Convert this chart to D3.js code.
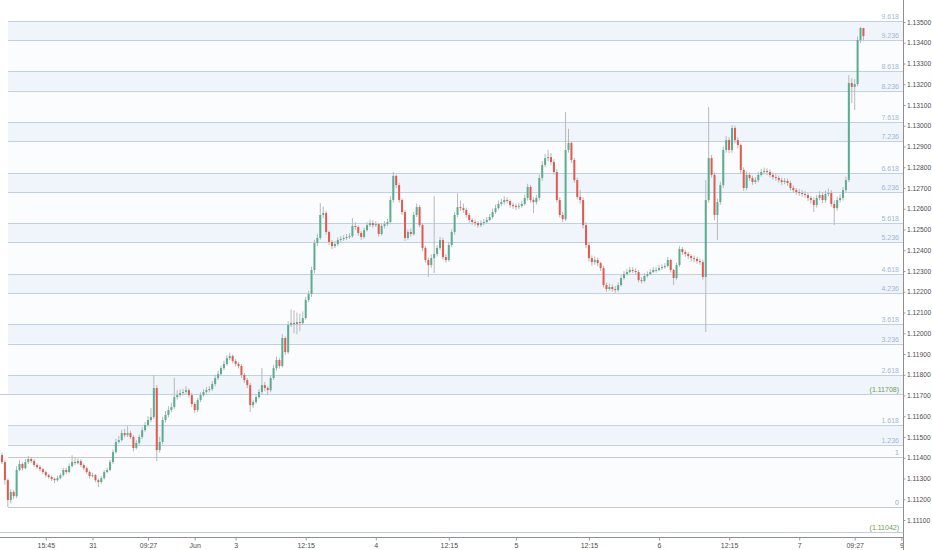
<!DOCTYPE html>
<html>
<head>
<meta charset="utf-8">
<script src="https://cdn.jsdelivr.net/npm/d3@7/dist/d3.min.js"></script>
<style>
  body { margin: 0; background: #fff; }
  text { font-family: "Liberation Sans", Arial, sans-serif; }
</style>
</head>
<body>
<div id="chart"></div>
<script>
//------------------------------------------------------------------------------
// 30 min candles, prices in points above 1.11000 (1 point = 0.00001)
// open of every bar = close of the bar before
//------------------------------------------------------------------------------
const firstOpen = 413;

const closes = [
	379,292,196,235,215,341,370,350,379,394,
	384,365,355,345,331,316,307,298,292,302,
	316,341,331,360,379,374,384,365,350,331,
	312,316,292,283,302,331,341,379,427,476,
	485,519,509,519,500,447,471,500,533,558,
	582,596,736,437,476,582,606,630,644,692,
	702,712,717,726,702,659,630,678,702,717,
	726,731,755,784,803,832,852,880,890,866,
	852,842,799,774,750,654,668,692,717,750,
	736,726,784,832,871,842,977,909,1040,1049,
	1044,1054,1049,1073,1160,1189,1305,1435,1459,1570,
	1579,1488,1440,1420,1430,1449,1454,1459,1464,1468,
	1517,1512,1483,1464,1497,1521,1531,1521,1526,1478,
	1517,1526,1536,1642,1758,1714,1642,1584,1459,1488,
	1478,1570,1608,1521,1411,1353,1329,1362,1382,1411,
	1449,1367,1353,1425,1488,1570,1608,1603,1594,1570,
	1546,1536,1531,1521,1531,1536,1546,1560,1584,1603,
	1623,1632,1642,1637,1618,1613,1608,1613,1623,1652,
	1705,1642,1632,1652,1748,1811,1844,1849,1825,1777,
	1642,1570,1550,1883,1917,1835,1738,1657,1642,1521,
	1425,1362,1343,1353,1338,1314,1232,1213,1223,1213,
	1208,1232,1266,1285,1295,1305,1300,1295,1256,1252,
	1276,1285,1295,1305,1305,1314,1319,1324,1353,1305,
	1266,1329,1406,1391,1382,1372,1362,1358,1348,1343,
	1271,1642,1844,1763,1570,1632,1714,1883,1931,1883,
	1989,1931,1907,1787,1700,1763,1748,1729,1738,1763,
	1777,1782,1777,1763,1753,1748,1738,1729,1734,1724,
	1700,1690,1681,1676,1671,1666,1652,1642,1618,1652,
	1666,1642,1671,1676,1623,1603,1642,1652,1690,1738,
	2206,2187,2201,2413,2471,2432
];

const highs = [
	425,388,300,250,245,360,388,378,394,408,
	403,394,373,365,350,338,322,315,305,312,
	325,350,352,372,412,402,396,392,372,358,
	338,328,322,300,312,340,352,390,440,492,
	505,535,540,552,530,510,485,512,548,572,
	600,640,798,750,500,598,625,648,665,785,
	725,730,732,745,735,712,668,690,715,730,
	740,745,770,800,820,845,868,895,906,898,
	875,862,852,808,785,760,680,705,730,833,
	765,745,798,848,888,880,995,985,1058,1115,
	1110,1100,1095,1105,1175,1205,1320,1450,1480,1627,
	1610,1590,1495,1450,1445,1462,1468,1472,1478,1482,
	1555,1535,1520,1492,1510,1535,1548,1545,1540,1532,
	1530,1540,1552,1660,1777,1765,1725,1650,1595,1500,
	1505,1585,1625,1618,1530,1420,1365,1380,1660,1425,
	1465,1460,1380,1440,1500,1585,1675,1640,1625,1605,
	1580,1555,1548,1540,1545,1550,1560,1575,1600,1620,
	1640,1648,1660,1655,1645,1630,1625,1628,1638,1668,
	1720,1715,1655,1668,1765,1830,1862,1883,1868,1838,
	1790,1655,1585,2066,1985,1925,1845,1750,1690,1655,
	1535,1440,1375,1370,1365,1345,1325,1245,1240,1235,
	1228,1245,1280,1300,1310,1320,1318,1312,1305,1270,
	1290,1298,1310,1320,1318,1328,1332,1338,1368,1360,
	1310,1340,1420,1415,1400,1392,1380,1375,1368,1360,
	1355,1738,2090,1860,1775,1650,1730,1900,1950,1945,
	2003,2000,1945,1915,1800,1780,1775,1760,1752,1778,
	1792,1798,1795,1790,1775,1768,1760,1750,1748,1745,
	1735,1712,1700,1695,1690,1685,1675,1662,1655,1668,
	1685,1678,1688,1698,1690,1640,1658,1670,1705,1755,
	2244,2230,2225,2430,2476,2470
];

const lows = [
	370,270,162,180,200,205,335,338,345,370,
	375,355,345,335,322,306,298,288,278,285,
	296,310,322,325,352,365,368,355,340,322,
	300,305,282,258,275,295,325,335,370,420,
	468,478,498,500,490,430,440,462,490,525,
	550,570,585,384,425,465,570,595,620,635,
	680,690,700,705,690,645,616,620,668,695,
	708,715,722,745,775,795,822,845,870,855,
	840,830,785,760,735,620,640,660,685,705,
	720,702,715,775,820,830,835,895,900,1030,
	1000,995,1010,1040,1065,1150,1175,1290,1420,1450,
	1555,1475,1425,1405,1410,1420,1440,1445,1450,1455,
	1460,1498,1470,1450,1455,1490,1512,1508,1512,1465,
	1470,1505,1515,1525,1630,1700,1630,1570,1445,1450,
	1465,1470,1560,1510,1395,1340,1271,1315,1290,1370,
	1400,1355,1340,1345,1415,1475,1560,1590,1580,1558,
	1532,1522,1518,1508,1512,1520,1528,1540,1552,1575,
	1595,1612,1620,1625,1605,1600,1595,1598,1605,1615,
	1640,1630,1579,1620,1640,1735,1800,1830,1810,1765,
	1630,1558,1536,1540,1870,1820,1725,1645,1625,1505,
	1410,1345,1325,1330,1322,1300,1220,1200,1205,1200,
	1195,1200,1225,1258,1278,1288,1290,1282,1245,1240,
	1245,1268,1280,1290,1292,1298,1305,1310,1318,1292,
	1232,1258,1320,1378,1368,1358,1345,1342,1335,1330,
	1258,1006,1630,1750,1545,1449,1620,1700,1870,1868,
	1870,1915,1890,1770,1685,1690,1735,1715,1720,1728,
	1755,1765,1762,1750,1740,1735,1725,1715,1718,1710,
	1688,1678,1668,1662,1658,1652,1638,1625,1584,1605,
	1640,1628,1630,1660,1610,1521,1590,1630,1640,1680,
	1729,2110,2076,2190,2400,2413
];

// time axis: bar index of each label
const timeTickIdx = [15, 31, 50, 66, 80, 104, 128, 153, 176, 201, 225, 249, 273, 292, 308];
const timeTickLabels = ["15:45", "31", "09:27", "Jun", "3", "12:15", "4", "12:15", "5", "12:15", "6", "12:15", "7", "09:27", "9"];

// price axis
const priceTicks = [1.111, 1.112, 1.113, 1.114, 1.115, 1.116, 1.117, 1.118, 1.119, 1.120,
	1.121, 1.122, 1.123, 1.124, 1.125, 1.126, 1.127, 1.128, 1.129, 1.130,
	1.131, 1.132, 1.133, 1.134, 1.135];

// fib extension
const fibLevels = [0, 1, 1.236, 1.618, 2.236, 2.618, 3.236, 3.618, 4.236, 4.618,
	5.236, 5.618, 6.236, 6.618, 7.236, 7.618, 8.236, 8.618, 9.236, 9.618];
const fibZero = 1.111612;
const fibUnit = 0.002438;

// horizontal price lines with their own labels
const priceLines = [1.11708, 1.11042];
const priceLineLabels = ["(1.11708)", "(1.11042)"];

//------------------------------------------------------------------------------
const W = 932, H = 550,
	plotR = 903, plotB = 537,
	fibX0 = 8;

const toPrice = function(p) { return 1.11 + p / 100000; };

const bars = closes.map(function(c, i) {
	return {
		i: i,
		o: toPrice(i ? closes[i - 1] : firstOpen),
		c: toPrice(c),
		h: toPrice(highs[i]),
		l: toPrice(lows[i])
	};
});

const x = d3.scaleLinear().domain([0, 308]).range([2, 901.4]);
const y = d3.scaleLinear().domain([1.111, 1.135]).range([520, 22]);

const svg = d3.select("#chart")
	.append("svg")
	.attr("width", W)
	.attr("height", H);

svg.append("rect")
	.attr("width", W).attr("height", H)
	.attr("fill", "#fff");

svg.append("clipPath").attr("id", "plot-clip")
	.append("rect")
	.attr("width", plotR).attr("height", plotB);

const plot = svg.append("g").attr("clip-path", "url(#plot-clip)");

// fib bands
const fibPrice = function(lv) { return fibZero + lv * fibUnit; };
const frac = function(v) { return Math.round((v % 1) * 1000); };

const bands = d3.pairs(fibLevels);
plot.selectAll(".band")
	.data(bands)
	.enter()
	.append("rect")
	.attr("class", "band")
	.attr("x", fibX0)
	.attr("width", plotR - fibX0)
	.attr("y", function(d) { return y(fibPrice(d[1])); })
	.attr("height", function(d) { return y(fibPrice(d[0])) - y(fibPrice(d[1])); })
	.attr("fill", function(d) {
		return (frac(d[0]) === 236 && frac(d[1]) === 618) ? "#f0f5fb" : "#fbfcfe";
	});

// extra price lines
plot.selectAll(".pline")
	.data(priceLines)
	.enter()
	.append("line")
	.attr("x1", 0).attr("x2", plotR)
	.attr("y1", function(d) { return Math.round(y(d)) + 0.5; })
	.attr("y2", function(d) { return Math.round(y(d)) + 0.5; })
	.attr("stroke", "#c3ccd8");

// fib lines
const isGrey = function(lv) { return lv === 0 || lv === 1; };
plot.selectAll(".fib")
	.data(fibLevels)
	.enter()
	.append("line")
	.attr("x1", fibX0).attr("x2", plotR)
	.attr("y1", function(d) { return Math.round(y(fibPrice(d))) + 0.5; })
	.attr("y2", function(d) { return Math.round(y(fibPrice(d))) + 0.5; })
	.attr("stroke", function(d) { return isGrey(d) ? "#c9c9cd" : "#c2d0e4"; });

// candles
const upCol = "#5aad8e", downCol = "#e25a4e", wickCol = "#b8b8b8";

plot.selectAll(".wick")
	.data(bars)
	.enter()
	.append("line")
	.attr("x1", function(d) { return x(d.i); })
	.attr("x2", function(d) { return x(d.i); })
	.attr("y1", function(d) { return y(d.h); })
	.attr("y2", function(d) { return y(d.l); })
	.attr("stroke", wickCol)
	.attr("stroke-width", 1);

plot.selectAll(".body")
	.data(bars)
	.enter()
	.append("rect")
	.attr("x", function(d) { return x(d.i) - 1; })
	.attr("width", 2)
	.attr("y", function(d) { return y(Math.max(d.o, d.c)); })
	.attr("height", function(d) { return Math.max(1, Math.abs(y(d.o) - y(d.c))); })
	.attr("fill", function(d) { return d.c >= d.o ? upCol : downCol; });

// fib labels (2.236 sits under the green price label)
plot.selectAll(".fib-label")
	.data(fibLevels.filter(function(d) { return d !== 2.236; }))
	.enter()
	.append("text")
	.attr("x", 899)
	.attr("y", function(d) { return y(fibPrice(d)) - 2; })
	.attr("text-anchor", "end")
	.attr("font-size", "7px")
	.attr("fill", function(d) { return isGrey(d) ? "#a9a9a9" : "#a2b7d5"; })
	.text(function(d) { return String(d); });

plot.selectAll(".pline-label")
	.data(priceLines)
	.enter()
	.append("text")
	.attr("x", 899)
	.attr("y", function(d) { return y(d) - 2; })
	.attr("text-anchor", "end")
	.attr("font-size", "7px")
	.attr("fill", "#6d9c52")
	.text(function(d, i) { return priceLineLabels[i]; });

// price axis
const yAxis = svg.append("g")
	.attr("transform", "translate(" + (plotR + 0.5) + ",0)")
	.call(d3.axisRight(y)
		.tickValues(priceTicks)
		.tickFormat(d3.format(".5f"))
		.tickSize(2)
		.tickPadding(1.5));
yAxis.select(".domain").remove();
yAxis.selectAll("line").attr("stroke", "#9a9a9a");
yAxis.selectAll("text")
	.attr("font-size", "6.7px")
	.attr("font-family", "'Liberation Sans', Arial, sans-serif")
	.attr("fill", "#4d4d4d");

// time axis
const xAxis = svg.append("g")
	.attr("transform", "translate(0," + (plotB + 0.5) + ")")
	.call(d3.axisBottom(x)
		.tickValues(timeTickIdx)
		.tickFormat(function(d, i) { return timeTickLabels[i]; })
		.tickSize(3)
		.tickPadding(3));
xAxis.select(".domain").remove();
xAxis.selectAll("line").attr("stroke", "#9a9a9a");
xAxis.selectAll("text")
	.attr("font-size", "7px")
	.attr("font-family", "'Liberation Sans', Arial, sans-serif")
	.attr("fill", "#4d4d4d");

// frame lines
svg.append("line")
	.attr("x1", 0).attr("x2", plotR + 0.5)
	.attr("y1", plotB + 0.5).attr("y2", plotB + 0.5)
	.attr("stroke", "#8f8f8f");
svg.append("line")
	.attr("x1", plotR + 0.5).attr("x2", plotR + 0.5)
	.attr("y1", 0).attr("y2", H)
	.attr("stroke", "#8f8f8f");
</script>
</body>
</html>
